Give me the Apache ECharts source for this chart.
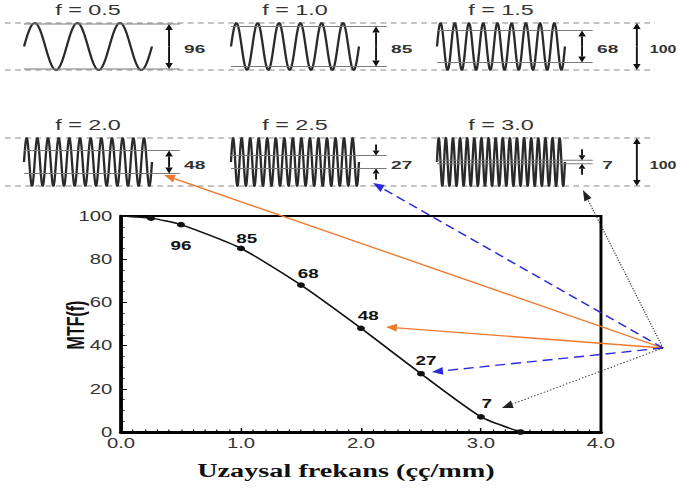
<!DOCTYPE html>
<html>
<head>
<meta charset="utf-8">
<script src="https://cdn.jsdelivr.net/npm/echarts@6/dist/echarts.min.js"></script>
<style>
  html, body { margin: 0; padding: 0; background: #fff; overflow: hidden; width: 680px; height: 493px; }
  /* the drawing surface is laid out narrow and widened horizontally */
  #chart { width: 469px; height: 493px; transform: scaleX(1.4499); transform-origin: 0 0; }
</style>
</head>
<body>
<div id="chart"></div>
<script>
// MTF curve: spatial frequency (cycles/mm) and modulation (%)
const freq = [0, 0.25, 0.5, 1.0, 1.5, 2.0, 2.5, 3.0, 3.33];
const mtf  = [100, 99, 96, 85, 68, 48, 27, 7, 0];

// sine-pattern panels: frequency and transferred modulation (%)
const panelFreq = [0.5, 1.0, 1.5, 2.0, 2.5, 3.0];
const panelMtf  = [96, 85, 68, 48, 27, 7];
const inputModulation = 100;

// axis tick labels
const xTickLabels = ['0.0', '1.0', '2.0', '3.0', '4.0'];
const yTickLabels = ['0', '20', '40', '60', '80', '100'];

// texts
const xTitle = 'Uzaysal frekans (çç/mm)';
const yTitle = 'MTF(f)';

const SANS = "'Liberation Sans', Arial, Helvetica, sans-serif";
const SERIF = "'Liberation Serif', 'Times New Roman', serif";

// horizontal widening factor of the surface; page x -> surface x
const S = 1.45;
const X = v => v / S;

// panel layout (page px)
const colLeft = [24, 231, 437];
const rowTop = [23, 138];
const rowH = [47, 48];
const waveWidth = 128;      // 6 mm of pattern
const patternMM = 6;

// label placement for the MTF points (surface px)
const labelPlace = {
  0.5: { position: 'bottom', distance: 11, offset: [0, 0] },
  1.0: { position: 'top', distance: 3, offset: [4, 2] },
  1.5: { position: 'top', distance: 3, offset: [5, 0] },
  2.0: { position: 'top', distance: 3, offset: [5, -1] },
  2.5: { position: 'top', distance: 3, offset: [3.5, -1] },
  3.0: { position: 'top', distance: 3, offset: [4, -1] }
};

const chart = echarts.init(document.getElementById('chart'), null, { renderer: 'svg' });

// ---- grids and axes ----
const grids = [{
  left: X(121), top: 216, width: X(480), height: 216,
  show: true, borderColor: '#000', borderWidth: 2, backgroundColor: 'transparent'
}];
const xAxes = [{
  gridIndex: 0, type: 'value', min: 0, max: 4, interval: 1,
  axisLine: { show: true, onZero: false, lineStyle: { color: '#000', width: 3 } },
  axisTick: { show: true, inside: true, length: 4, lineStyle: { color: '#000', width: 1 } },
  minorTick: { show: true, splitNumber: 10, length: 2.5, lineStyle: { color: '#000', width: 0.8 } },
  splitLine: { show: false },
  axisLabel: { margin: 4, color: '#333', fontSize: 14, fontFamily: SANS,
    formatter: v => xTickLabels[Math.round(v)] }
}];
const yAxes = [{
  gridIndex: 0, type: 'value', min: 0, max: 100, interval: 20,
  axisLine: { show: true, onZero: false, lineStyle: { color: '#000', width: 2.5 } },
  axisTick: { show: true, inside: true, length: 4, lineStyle: { color: '#000', width: 1 } },
  minorTick: { show: true, splitNumber: 4, length: 2.5, lineStyle: { color: '#000', width: 0.8 } },
  splitLine: { show: false },
  axisLabel: { margin: 6, color: '#333', fontSize: 14, fontFamily: SANS,
    formatter: v => yTickLabels[Math.round(v / 20)] }
}];

panelFreq.forEach((f, i) => {
  const r = Math.floor(i / 3), c = i % 3;
  grids.push({ left: X(colLeft[c]), top: rowTop[r], width: X(waveWidth), height: rowH[r] });
  xAxes.push({ gridIndex: i + 1, type: 'value', min: 0, max: patternMM, show: false });
  yAxes.push({ gridIndex: i + 1, type: 'value', min: -50, max: 50, show: false });
});

// ---- drawing helpers (surface px) ----
function vArrow(x, yFrom, yTip, hl, hw, color) {
  const s = Math.sign(yTip - yFrom);
  const base = yTip - s * hl;
  return [
    { type: 'line', shape: { x1: x, y1: yFrom, x2: x, y2: base }, style: { stroke: color, lineWidth: 1.3 } },
    { type: 'polygon', shape: { points: [[x, yTip], [x - hw, base], [x + hw, base]] }, style: { fill: color } }
  ];
}

function panelText(x, y, text, size, weight, sx) {
  return {
    type: 'text', x: x, y: y, scaleX: sx,
    style: { text: text, fontFamily: SANS, fontSize: size, fontWeight: weight, fill: '#333',
      align: 'center', verticalAlign: 'middle' }
  };
}

// one sine pattern panel: full-scale pattern, transferred modulation levels, arrows, labels
function makePanel(i) {
  const showInput = i % 3 === 2;
  return {
    type: 'custom', xAxisIndex: i + 1, yAxisIndex: i + 1, silent: true, clip: false, z: 3,
    data: [[panelFreq[i], panelMtf[i]]],
    renderItem: (params, api) => {
      const f = api.value(0), m = api.value(1);
      const P = (x, y) => api.coord([x, y]);
      const kids = [];
      const pts = [];
      const n = 1500;
      for (let k = 0; k <= n; k++) {
        const x = patternMM * k / n;
        pts.push(P(x, (inputModulation / 2) * Math.sin(2 * Math.PI * f * x)));
      }
      kids.push({ type: 'polyline', shape: { points: pts }, style: { stroke: '#2a2a2a', lineWidth: 1.6, fill: null } });
      [m / 2, -m / 2].forEach(y => {
        const a = P(0, y), b = P(7.3, y);
        kids.push({ type: 'line', shape: { x1: a[0], y1: a[1], x2: b[0], y2: b[1] },
          style: { stroke: '#7a7a7a', lineWidth: 1 } });
      });
      const top = P(6.8, m / 2), bot = P(6.8, -m / 2), mid = P(6.8, 0);
      if (m >= 40) {
        kids.push(...vArrow(mid[0], mid[1], top[1], 6, 2.6, '#111'));
        kids.push(...vArrow(mid[0], mid[1], bot[1], 6, 2.6, '#111'));
      } else {
        kids.push(...vArrow(top[0], top[1] - 11, top[1], 5, 2.4, '#111'));
        kids.push(...vArrow(bot[0], bot[1] + 11, bot[1], 5, 2.4, '#111'));
      }
      const lab = P(8.0, 0);
      kids.push(panelText(lab[0], lab[1] + 3, String(m), 11, 'bold', 1.2));
      const tt = P(patternMM / 2, 50);
      kids.push(panelText(tt[0], tt[1] - 13, 'f = ' + f.toFixed(1), 14, 'normal', 1.15));
      if (showInput) {
        const h = inputModulation / 2;
        const t2 = P(9.37, h), b2 = P(9.37, -h), m2 = P(9.37, 0);
        kids.push(...vArrow(m2[0], m2[1], t2[1], 6, 2.6, '#111'));
        kids.push(...vArrow(m2[0], m2[1], b2[1], 6, 2.6, '#111'));
        const l2 = P(10.6, 0);
        kids.push(panelText(l2[0], l2[1] + 3, String(inputModulation), 11, 'bold', 1.0));
      }
      return { type: 'group', children: kids };
    }
  };
}

// ---- MTF curve ----
const curveData = freq.map((f, i) => {
  const item = { value: [f, mtf[i]] };
  if (i === 0) item.symbol = 'none';
  const lp = labelPlace[f];
  if (lp) {
    item.label = { show: true, position: lp.position, distance: lp.distance, offset: lp.offset };
  }
  return item;
});

const series = [{
  type: 'line', xAxisIndex: 0, yAxisIndex: 0, z: 5,
  data: curveData,
  smooth: 0.2,
  symbol: 'circle', symbolSize: 5.5,
  itemStyle: { color: '#111' },
  lineStyle: { color: '#111', width: 1.4 },
  label: { show: false, color: '#111', fontSize: 13, fontWeight: 'bold', fontFamily: SANS,
    formatter: p => String(p.value[1]) },
  emphasis: { disabled: true },
  animation: false
}];
panelFreq.forEach((f, i) => series.push(makePanel(i)));

// ---- annotations: row guides, pointer arrows, axis titles ----
const graphics = [];
[[rowTop[0], rowTop[0] + rowH[0]], [rowTop[1], rowTop[1] + rowH[1]]].forEach(pair => {
  pair.forEach(y => graphics.push({
    type: 'line', shape: { x1: X(5), y1: y, x2: X(655), y2: y },
    style: { stroke: '#8a8a8a', lineWidth: 1, lineDash: [4, 3] }, z: 1
  }));
});

const arrowFrom = [663, 348];
const pointers = [
  { tip: [164, 175], color: '#EE7A30', dash: null, width: 1.3 },
  { tip: [386, 327], color: '#EE7A30', dash: null, width: 1.3 },
  { tip: [373, 183], color: '#2B2BD9', dash: [7, 4], width: 1.4 },
  { tip: [432, 372], color: '#2B2BD9', dash: [7, 4], width: 1.4 },
  { tip: [583, 190], color: '#222', dash: [1, 1.5], width: 0.9 },
  { tip: [502, 408], color: '#222', dash: [1, 1.5], width: 0.9 }
];
pointers.forEach(a => {
  const [sx, sy] = arrowFrom, [tx, ty] = a.tip;
  const len = Math.hypot(tx - sx, ty - sy);
  const dx = (tx - sx) / len, dy = (ty - sy) / len;
  const hl = 11, hw = 4;
  const bx = tx - dx * hl, by = ty - dy * hl;
  const nx = -dy, ny = dx;
  graphics.push({
    type: 'line', z: 50,
    shape: { x1: X(sx), y1: sy, x2: X(bx), y2: by },
    style: { stroke: a.color, lineWidth: a.width, lineDash: a.dash || null }
  });
  graphics.push({
    type: 'polygon', z: 50,
    shape: { points: [[X(tx), ty], [X(bx + nx * hw), by + ny * hw], [X(bx - nx * hw), by - ny * hw]] },
    style: { fill: a.color }
  });
});

graphics.push({
  type: 'text', x: X(346), y: 470, z: 20,
  style: { text: xTitle, fontFamily: SERIF, fontSize: 19.5, fontWeight: 'bold', fill: '#111',
    align: 'center', verticalAlign: 'middle', textAlign: 'center', textVerticalAlign: 'middle' }
});
graphics.push({
  type: 'text', x: X(76), y: 325, rotation: Math.PI / 2, z: 20,
  style: { text: yTitle, fontFamily: SANS, fontSize: 16, fontWeight: 'bold', fill: '#111',
    align: 'center', verticalAlign: 'middle', textAlign: 'center', textVerticalAlign: 'middle' }
});

chart.setOption({
  animation: false,
  backgroundColor: '#fff',
  grid: grids,
  xAxis: xAxes,
  yAxis: yAxes,
  series: series,
  graphic: { elements: graphics }
});
</script>
</body>
</html>
